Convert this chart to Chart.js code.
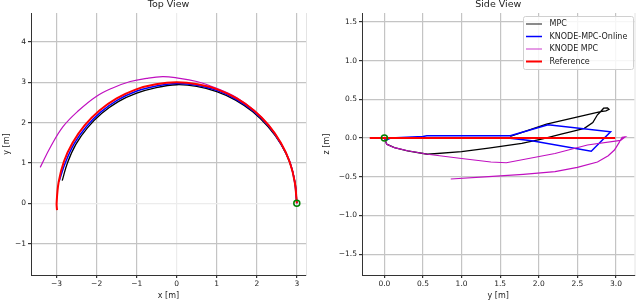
<!DOCTYPE html>
<html>
<head>
<meta charset="utf-8">
<script src="https://cdn.jsdelivr.net/npm/chart.js@4.4.1/dist/chart.umd.min.js"></script>
<style>
  html, body { margin: 0; padding: 0; background: #ffffff; width: 640px; height: 301px; overflow: hidden; }
  canvas { position: absolute; top: 0; }
  #top { left: 0; }
  #side { left: 320px; }
</style>
</head>
<body>
<canvas id="top" width="320" height="301"></canvas>
<canvas id="side" width="320" height="301"></canvas>
<script>
// ---------- series names ----------
const seriesLabels = ['MPC', 'KNODE-MPC-Online', 'KNODE MPC', 'Reference'];

// ---------- Top view (x, y) ----------
const topMPC = [[3.0,0],[2.96,0.5],[2.83,1.0],[2.6,1.47],[2.28,1.9],[1.9,2.27],[1.47,2.56],[1.0,2.77],[0.5,2.9],[0,2.94],[-0.51,2.87],[-1.0,2.73],[-1.46,2.52],[-1.87,2.23],[-2.23,1.87],[-2.52,1.46],[-2.73,1.0],[-2.86,0.56]];
const topOnline = [[3.0,0],[2.95,0.5],[2.83,1.01],[2.6,1.48],[2.29,1.92],[1.91,2.29],[1.48,2.58],[1.0,2.8],[0.5,2.93],[0,2.97],[-0.51,2.91],[-1.01,2.78],[-1.48,2.56],[-1.9,2.26],[-2.26,1.9],[-2.56,1.48],[-2.78,1.01],[-2.94,0.54]];
const topKnode = [[3.0,0],[2.96,0.5],[2.83,1.02],[2.6,1.5],[2.3,1.94],[1.93,2.31],[1.5,2.62],[1.0,2.85],[0.5,3.02],[0,3.11],[-0.35,3.14],[-0.75,3.1],[-1.16,3.02],[-1.6,2.86],[-2.01,2.65],[-2.45,2.3],[-2.84,1.9],[-3.15,1.4],[-3.41,0.89]];
const topRef = [[3.0,0],[2.95,0.52],[2.82,1.03],[2.6,1.5],[2.3,1.93],[1.93,2.3],[1.5,2.6],[1.03,2.82],[0.52,2.95],[0,3.0],[-0.52,2.95],[-1.03,2.82],[-1.5,2.6],[-1.93,2.3],[-2.3,1.93],[-2.6,1.5],[-2.82,1.03],[-2.95,0.52],[-3.0,0],[-2.99,-0.17]];
const topStart = [[3.0,0]];

// ---------- Side view (y, z) ----------
const sideMPC = [[0,0],[0.03,-0.08],[0.13,-0.125],[0.3,-0.165],[0.56,-0.21],[1.0,-0.175],[1.35,-0.13],[1.78,-0.07],[2.05,-0.01],[2.29,0.05],[2.45,0.09],[2.59,0.125],[2.7,0.2],[2.76,0.3],[2.8,0.34],[2.84,0.385],[2.89,0.39],[2.91,0.37],[2.87,0.35],[2.8,0.34],[2.45,0.26],[2.1,0.18],[1.63,0.02]];
const sideOnline = [[0,0],[0.02,-0.03],[0.08,0.0],[0.5,0.02],[0.55,0.03],[1.63,0.03],[2.12,0.17],[2.93,0.08],[2.68,-0.17],[1.91,-0.035],[1.6,0.0],[0.3,0.005]];
const sideKnode = [[0,0],[0.03,-0.08],[0.13,-0.125],[0.3,-0.165],[0.56,-0.21],[1.0,-0.265],[1.38,-0.31],[1.58,-0.32],[2.21,-0.2],[2.63,-0.09],[3.06,-0.03],[3.1,0.0],[3.12,0.015],[3.08,0.01],[3.04,-0.06],[2.98,-0.155],[2.9,-0.23],[2.76,-0.31],[2.5,-0.38],[2.21,-0.435],[1.8,-0.47],[1.35,-0.5],[0.86,-0.53]];
const sideRef = [[-0.19,0],[2.99,0]];
const sideStart = [[0,0]];

// ---------- ticks ----------
const topXTicks = [-3,-2,-1,0,1,2,3];
const topYTicks = [-1,0,1,2,3,4];
const sideXTicks = [0,0.5,1.0,1.5,2.0,2.5,3.0];
const sideYTicks = [-1.5,-1.0,-0.5,0,0.5,1.0,1.5];

// ---------- styling ----------
const seriesColors = ['#000000', '#0000ff', '#c010c0', '#ff0000'];
const seriesWidths = [1.3, 1.5, 1.2, 2];
const FONT = 'DejaVu Sans';
const TXT = '#222222';

function pts(a) { return a.map(p => ({x: p[0], y: p[1]})); }
function fmtInt(v) { return String(v).replace('-', '\u2212'); }
function fmt1(v) { return Number(v).toFixed(1).replace('-', '\u2212'); }

function lineSets(arrs, tension) {
  return arrs.map((a, i) => ({
    label: seriesLabels[i],
    data: pts(a),
    showLine: true,
    borderColor: seriesColors[i],
    backgroundColor: seriesColors[i],
    borderWidth: seriesWidths[i],
    pointRadius: 0,
    tension: tension,
    fill: false,
    order: 4 - i
  }));
}
function markerSet(a) {
  return {
    label: 'start', data: pts(a), showLine: false,
    pointRadius: 3, pointStyle: 'circle', borderColor: '#008000', borderWidth: 1.5,
    backgroundColor: 'rgba(0,0,0,0)', order: 0
  };
}

function makeScale(min, max, ticks, fmt, axisSize, isX, lightZero) {
  return {
    type: 'linear', min: min, max: max,
    position: isX ? 'bottom' : 'left',
    afterBuildTicks: s => { s.ticks = ticks.map(v => ({value: v})); },
    afterFit: s => { if (isX) s.height = axisSize; else s.width = axisSize; },
    grid: {
      color: c => (lightZero && c.tick && c.tick.value === 0) ? '#ececec' : '#c4c4c4',
      lineWidth: 1.2,
      tickLength: 3,
      tickColor: '#333333',
      drawOnChartArea: true
    },
    border: { display: true, color: '#333333', width: 1 },
    ticks: {
      autoSkip: false, maxRotation: 0, padding: 2,
      color: TXT, font: { family: FONT, size: 7.5 },
      callback: v => fmt(v)
    }
  };
}

function decorPlugin(title, xLabel, yLabel, legend) {
  return {
    id: 'decor',
    afterDraw(chart) {
      const ctx = chart.ctx, a = chart.chartArea;
      ctx.save();
      ctx.strokeStyle = '#e4e4e4'; ctx.lineWidth = 1;
      ctx.beginPath(); ctx.moveTo(a.right + 0.5, a.top); ctx.lineTo(a.right + 0.5, a.bottom); ctx.stroke();
      ctx.fillStyle = TXT;
      ctx.textAlign = 'center'; ctx.textBaseline = 'middle';
      ctx.font = '9.5px "' + FONT + '"';
      ctx.fillText(title, (a.left + a.right) / 2, 5);
      ctx.font = '8px "' + FONT + '"';
      ctx.fillText(xLabel, (a.left + a.right) / 2, 295.5);
      ctx.translate(7, (a.top + a.bottom) / 2);
      ctx.rotate(-Math.PI / 2);
      ctx.fillText(yLabel, 0, 0);
      ctx.restore();
      if (legend) {
        ctx.save();
        const bx = 203.5, by = 16.5, bw = 110, bh = 53;
        ctx.fillStyle = 'rgba(255,255,255,0.85)';
        ctx.strokeStyle = '#d0d0d0'; ctx.lineWidth = 1;
        ctx.beginPath();
        if (ctx.roundRect) ctx.roundRect(bx, by, bw, bh, 2); else ctx.rect(bx, by, bw, bh);
        ctx.fill(); ctx.stroke();
        const rows = [24, 36.5, 49, 61.5];
        ctx.font = '8px "' + FONT + '"';
        ctx.textAlign = 'left'; ctx.textBaseline = 'middle';
        seriesLabels.forEach((lab, i) => {
          ctx.strokeStyle = seriesColors[i];
          ctx.globalAlpha = (i === 0 || i === 2) ? 0.7 : 1;
          ctx.lineWidth = seriesWidths[i];
          ctx.beginPath(); ctx.moveTo(206, rows[i]); ctx.lineTo(222, rows[i]); ctx.stroke();
          ctx.globalAlpha = 1;
          ctx.fillStyle = TXT;
          ctx.fillText(lab, 229.5, rows[i]);
        });
        ctx.restore();
      }
    }
  };
}

const commonPlugins = { legend: { display: false }, tooltip: { enabled: false }, title: { display: false } };

new Chart(document.getElementById('top'), {
  type: 'scatter',
  data: { datasets: [markerSet(topStart)].concat(lineSets([topMPC, topOnline, topKnode, topRef], 0.4)) },
  options: {
    responsive: false, animation: false, devicePixelRatio: 1,
    layout: { padding: { left: 0, right: 14, top: 13, bottom: 0 } },
    plugins: commonPlugins,
    scales: {
      x: makeScale(-3.64, 3.23, topXTicks, fmtInt, 26, true, true),
      y: makeScale(-1.78, 4.72, topYTicks, fmtInt, 31, false, true)
    }
  },
  plugins: [decorPlugin('Top View', 'x [m]', 'y [m]', false)]
});

new Chart(document.getElementById('side'), {
  type: 'scatter',
  data: { datasets: [markerSet(sideStart)].concat(lineSets([sideMPC, sideOnline, sideKnode, sideRef], 0)) },
  options: {
    responsive: false, animation: false, devicePixelRatio: 1,
    layout: { padding: { left: 0, right: 2, top: 13, bottom: 0 } },
    plugins: commonPlugins,
    scales: {
      x: makeScale(-0.29, 3.24, sideXTicks, fmt1, 26, true, false),
      y: makeScale(-1.77, 1.615, sideYTicks, fmt1, 42, false, false)
    }
  },
  plugins: [decorPlugin('Side View', 'y [m]', 'z [m]', true)]
});
</script>
</body>
</html>
